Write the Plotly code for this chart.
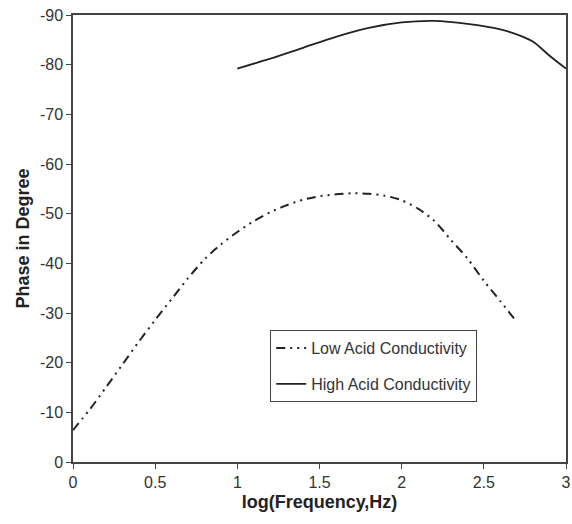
import plotly.graph_objects as go

low_x = [0.0, 0.1, 0.2, 0.3, 0.4, 0.5, 0.6, 0.7, 0.8, 0.9, 1.0, 1.1, 1.2, 1.3, 1.4,
         1.5, 1.6, 1.7, 1.8, 1.9, 2.0, 2.1, 2.2, 2.3, 2.4, 2.5, 2.6, 2.7]
low_y = [-6.4, -10.5, -15.0, -19.6, -24.2, -28.6, -32.8, -37.0, -40.8, -43.8, -46.3, -48.5, -50.3, -51.7, -52.8,
         -53.5, -53.9, -54.1, -54.0, -53.6, -52.7, -51.0, -48.5, -44.7, -41.0, -36.5, -32.4, -28.2]

high_x = [1.0, 1.2, 1.4, 1.6, 1.8, 2.0, 2.2, 2.4, 2.6, 2.7, 2.8, 2.9, 3.0]
high_y = [-79.2, -81.2, -83.4, -85.6, -87.4, -88.5, -88.8, -88.2, -87.1, -86.1, -84.6, -81.8, -79.2]

x_ticks = [0, 0.5, 1, 1.5, 2, 2.5, 3]
x_labels = ["0", "0.5", "1", "1.5", "2", "2.5", "3"]
y_ticks = [0, -10, -20, -30, -40, -50, -60, -70, -80, -90]
y_labels = ["0", "-10", "-20", "-30", "-40", "-50", "-60", "-70", "-80", "-90"]

FONT = "Arial, Liberation Sans"

fig = go.Figure()
fig.add_trace(go.Scatter(x=low_x, y=low_y, mode="lines", name="Low Acid Conductivity",
                         legendgroup="a",
                         line=dict(color="#222", width=2, dash="9px,5px,2px,5px,2px,5px", shape="spline", smoothing=0.8)))
fig.add_trace(go.Scatter(x=high_x, y=high_y, mode="lines", name="High Acid Conductivity",
                         legendgroup="b",
                         line=dict(color="#222", width=1.8, shape="spline", smoothing=0.8)))

axis_common = dict(showgrid=False, zeroline=False, showline=True, linecolor="#444", linewidth=1.5,
                   mirror=True, ticks="outside", ticklen=5, tickcolor="#444", automargin=False,
                   tickfont=dict(family=FONT, size=16, color="#333"))
fig.update_xaxes(range=[0, 3], tickvals=x_ticks, ticktext=x_labels,
                 title=dict(text="<b>log(Frequency,Hz)</b>", font=dict(family=FONT, size=18, color="#222"), standoff=5),
                 **axis_common)
fig.update_yaxes(range=[0, -90], tickvals=y_ticks, ticktext=y_labels,
                 title=dict(text="<b>Phase in Degree</b>", font=dict(family=FONT, size=18, color="#222"), standoff=6),
                 **axis_common)

fig.update_layout(width=572, height=524, margin=dict(l=73, r=6, t=15, b=62),
                  plot_bgcolor="white", paper_bgcolor="white",
                  showlegend=True,
                  legend=dict(x=0.40, y=0.295, xanchor="left", yanchor="top",
                              bordercolor="#444", borderwidth=1, bgcolor="white",
                              font=dict(family=FONT, size=16, color="#333"),
                              tracegroupgap=12))
fig.write_html("out.html")
